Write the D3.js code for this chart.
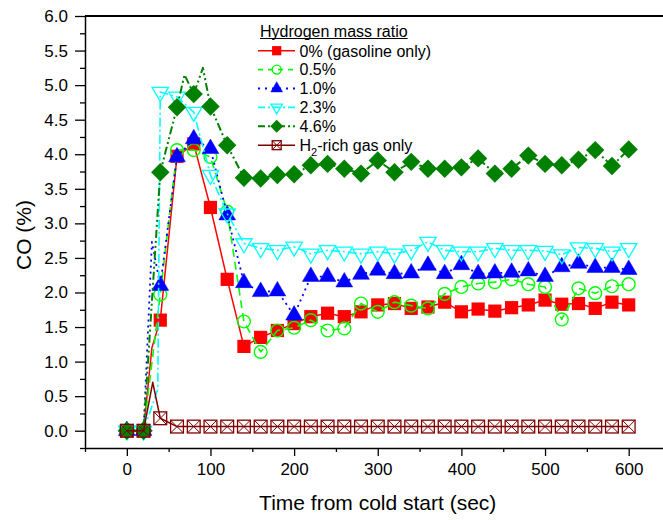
<!DOCTYPE html>
<html>
<head>
<meta charset="utf-8">
<script src="https://cdn.jsdelivr.net/npm/d3@7/dist/d3.min.js"></script>
<style>
  html, body { margin: 0; padding: 0; background: #fff; }
  svg { display: block; font-family: "Liberation Sans", Arial, sans-serif; }
</style>
</head>
<body>
<svg id="chart" width="663" height="520"></svg>
<script>
// ---- data ----
const timeSec = [0,20,40,60,80,100,120,140,160,180,200,220,240,260,280,300,320,340,360,380,400,420,440,460,480,500,520,540,560,580,600];

const co0 = [0,0,1.60,3.97,4.15,3.23,2.19,1.22,1.35,1.45,1.55,1.65,1.70,1.65,1.72,1.82,1.84,1.77,1.79,1.86,1.72,1.76,1.73,1.78,1.82,1.89,1.83,1.84,1.77,1.86,1.82];
const co05 = [0,0,1.97,4.06,4.06,3.96,3.17,1.58,1.14,1.45,1.49,1.60,1.45,1.48,1.84,1.72,1.86,1.81,1.77,1.98,2.08,2.13,2.15,2.19,2.12,2.08,1.61,2.06,1.99,2.09,2.12];
const co10 = [0,0,2.10,3.96,4.22,4.08,3.12,2.14,2.01,2.02,1.67,2.23,2.23,2.15,2.26,2.32,2.27,2.28,2.39,2.27,2.40,2.27,2.28,2.29,2.31,2.23,2.37,2.42,2.36,2.36,2.33];
const co23 = [0,0,4.90,4.83,4.61,3.70,3.14,2.71,2.64,2.61,2.66,2.56,2.61,2.59,2.56,2.59,2.56,2.61,2.73,2.61,2.59,2.59,2.64,2.61,2.61,2.60,2.55,2.65,2.64,2.59,2.64];
const co46 = [0,0,3.74,4.68,4.87,4.69,4.13,3.66,3.65,3.70,3.71,3.84,3.86,3.79,3.72,3.91,3.74,3.89,3.79,3.79,3.81,3.94,3.72,3.79,3.98,3.86,3.84,3.92,4.06,3.83,4.07];
const coH2 = [0,0,0.18,0.06,0.06,0.06,0.06,0.06,0.06,0.06,0.06,0.06,0.06,0.06,0.06,0.06,0.06,0.06,0.06,0.06,0.06,0.06,0.06,0.06,0.06,0.06,0.06,0.06,0.06,0.06,0.06];

// extra line-only readings (the curves are recorded finer than the markers)
const co0LineExtraT = [30];
const co0LineExtraV = [1.20];
const co10LineExtraT = [30];
const co10LineExtraV = [2.73];
const co23LineExtraT = [37];
const co23LineExtraV = [0.60];
const co46LineExtraT = [69, 91];
const co46LineExtraV = [5.15, 5.25];
const coH2LineExtraT = [31];
const coH2LineExtraV = [0.70];

const legendTitle = "Hydrogen mass ratio";
const seriesNames = ["0% (gasoline only)", "0.5%", "1.0%", "2.3%", "4.6%", "H2-rich gas only"];

const yTickValues = [0,0.5,1,1.5,2,2.5,3,3.5,4,4.5,5,5.5,6];
const yMinorValues = [-0.25,0.25,0.75,1.25,1.75,2.25,2.75,3.25,3.75,4.25,4.75,5.25,5.75];
const xTickValues = [0,100,200,300,400,500,600];
const xMinorValues = [-50,50,150,250,350,450,550,650];

// ---- layout ----
const svg = d3.select("#chart");
const x = d3.scaleLinear().domain([-50, 650]).range([85, 670.5]);
const y = d3.scaleLinear().domain([-0.25, 6]).range([448, 16]);

const series = [
  { name: seriesNames[0], vals: co0,  color: "#ff0000", dash: null,           width: 1.5, sym: "square",
    extraT: co0LineExtraT, extraV: co0LineExtraV },
  { name: seriesNames[1], vals: co05, color: "#00ff00", dash: "8,5",          width: 1.6, sym: "circle" },
  { name: seriesNames[2], vals: co10, color: "#0000ff", dash: "2,4",          width: 1.8, sym: "triUp",
    extraT: co10LineExtraT, extraV: co10LineExtraV },
  { name: seriesNames[3], vals: co23, color: "#00ffff", dash: "9,3,2,3",      width: 1.6, sym: "triDown",
    extraT: co23LineExtraT, extraV: co23LineExtraV },
  { name: seriesNames[4], vals: co46, color: "#008000", dash: "8,3,2,3,2,3",  width: 2.0, sym: "diamond",
    extraT: co46LineExtraT, extraV: co46LineExtraV },
  { name: seriesNames[5], vals: coH2, color: "#800000", dash: null,           width: 1.5, sym: "xsquare",
    extraT: coH2LineExtraT, extraV: coH2LineExtraV }
];

function drawMarker(g, s, cx, cy, k) {
  const c = s.color;
  if (s.sym === "square") {
    const h = 6.6 * k;
    g.append("rect").attr("x", cx - h).attr("y", cy - h).attr("width", 2*h).attr("height", 2*h)
      .attr("fill", c).attr("stroke", "none");
  } else if (s.sym === "circle") {
    g.append("circle").attr("cx", cx).attr("cy", cy).attr("r", 6.4 * k)
      .attr("fill", "none").attr("stroke", c).attr("stroke-width", 1.4);
  } else if (s.sym === "triUp") {
    const w = 8.4 * k, hh = 14.5 * k;
    g.append("path").attr("d", `M${cx},${cy - hh*2/3} L${cx + w},${cy + hh/3} L${cx - w},${cy + hh/3} Z`)
      .attr("fill", c).attr("stroke", c).attr("stroke-width", 0.5);
  } else if (s.sym === "triDown") {
    const w = 8.2 * k, hh = 14 * k;
    g.append("path").attr("d", `M${cx},${cy + hh*2/3} L${cx + w},${cy - hh/3} L${cx - w},${cy - hh/3} Z`)
      .attr("fill", "none").attr("stroke", c).attr("stroke-width", 1.3);
  } else if (s.sym === "diamond") {
    const r = 9.2 * k;
    g.append("path").attr("d", `M${cx},${cy - r} L${cx + r},${cy} L${cx},${cy + r} L${cx - r},${cy} Z`)
      .attr("fill", c).attr("stroke", "none");
  } else if (s.sym === "xsquare") {
    const h = 6.4 * k;
    g.append("rect").attr("x", cx - h).attr("y", cy - h).attr("width", 2*h).attr("height", 2*h)
      .attr("fill", "none").attr("stroke", c).attr("stroke-width", 1.3);
    g.append("path").attr("d", `M${cx-h},${cy-h} L${cx+h},${cy+h} M${cx+h},${cy-h} L${cx-h},${cy+h}`)
      .attr("stroke", c).attr("stroke-width", 1);
  }
}

const line = d3.line().x(d => x(d[0])).y(d => y(d[1]));

series.forEach(s => {
  const g = svg.append("g");
  let pts = timeSec.map((t, i) => [t, s.vals[i]]);
  if (s.extraT) {
    s.extraT.forEach((t, i) => pts.push([t, s.extraV[i]]));
    pts.sort((a, b) => a[0] - b[0]);
  }
  g.append("path").attr("d", line(pts)).attr("fill", "none")
    .attr("stroke", s.color).attr("stroke-width", s.width)
    .attr("stroke-dasharray", s.dash).attr("stroke-linejoin", "round");
  timeSec.forEach((t, i) => drawMarker(g, s, x(t), y(s.vals[i]), 1));
});

// ---- axes ----
const yAxis = svg.append("g").attr("transform", `translate(${x(-50)},0)`)
  .call(d3.axisLeft(y).tickValues(yTickValues).tickSize(10).tickSizeOuter(0).tickPadding(7)
        .tickFormat(d3.format(".1f")));
yAxis.select(".domain").attr("stroke-width", 1.5);
yAxis.selectAll(".tick line").attr("stroke-width", 1.3);
yAxis.selectAll(".tick text").attr("font-size", 17).attr("font-family", "Liberation Sans, Arial, sans-serif").attr("fill", "#000");
svg.append("g").attr("transform", `translate(${x(-50)},0)`)
  .call(d3.axisLeft(y).tickValues(yMinorValues).tickSize(5).tickSizeOuter(0).tickFormat(""))
  .call(g => g.select(".domain").remove())
  .selectAll(".tick line").attr("stroke-width", 1.3);

const xAxis = svg.append("g").attr("transform", `translate(0,${y(-0.25)})`)
  .call(d3.axisBottom(x).tickValues(xTickValues).tickSize(8).tickSizeOuter(0).tickPadding(7));
xAxis.select(".domain").attr("stroke-width", 1.5);
xAxis.selectAll(".tick line").attr("stroke-width", 1.3);
xAxis.selectAll(".tick text").attr("font-size", 17).attr("font-family", "Liberation Sans, Arial, sans-serif").attr("fill", "#000");
svg.append("g").attr("transform", `translate(0,${y(-0.25)})`)
  .call(d3.axisBottom(x).tickValues(xMinorValues).tickSize(4).tickSizeOuter(0).tickFormat(""))
  .call(g => g.select(".domain").remove())
  .selectAll(".tick line").attr("stroke-width", 1.3);

// top frame line
svg.append("line").attr("x1", x(-50)).attr("x2", x(650)).attr("y1", y(6)).attr("y2", y(6))
  .attr("stroke", "#000").attr("stroke-width", 2);

// axis titles
svg.append("text").attr("x", (x(-50) + x(650)) / 2).attr("y", 510)
  .attr("text-anchor", "middle").attr("font-size", 21).text("Time from cold start (sec)");
svg.append("text").attr("transform", `translate(31,${(y(-0.25) + y(6)) / 2 + 3}) rotate(-90)`)
  .attr("text-anchor", "middle").attr("font-size", 21).text("CO (%)");

// ---- legend ----
const lg = svg.append("g");
const lt = lg.append("text").attr("x", 260).attr("y", 36.5).attr("font-size", 16).text(legendTitle);
const tw = lt.node().getComputedTextLength();
lg.append("line").attr("x1", 260).attr("x2", 260 + tw).attr("y1", 38.5).attr("y2", 38.5)
  .attr("stroke", "#000").attr("stroke-width", 1);

const legendDash = ["none", "5,5", "2,5", "7,3,2,3", "7,3,2,3,2,3", "none"];
series.forEach((s, i) => {
  const cy = 50.7 + i * 18.9;
  lg.append("line").attr("x1", 258).attr("x2", 295).attr("y1", cy).attr("y2", cy)
    .attr("stroke", s.color).attr("stroke-width", s.width)
    .attr("stroke-dasharray", legendDash[i] === "none" ? null : legendDash[i]);
  drawMarker(lg, s, 276.7, cy, 0.7);
  const t = lg.append("text").attr("x", 299.5).attr("y", cy + 5.8).attr("font-size", 16);
  if (i === 5) {
    t.append("tspan").text("H");
    t.append("tspan").attr("font-size", 11).attr("dy", 5).text("2");
    t.append("tspan").attr("dy", -5).text("-rich gas only");
  } else {
    t.text(s.name);
  }
});
</script>
</body>
</html>
